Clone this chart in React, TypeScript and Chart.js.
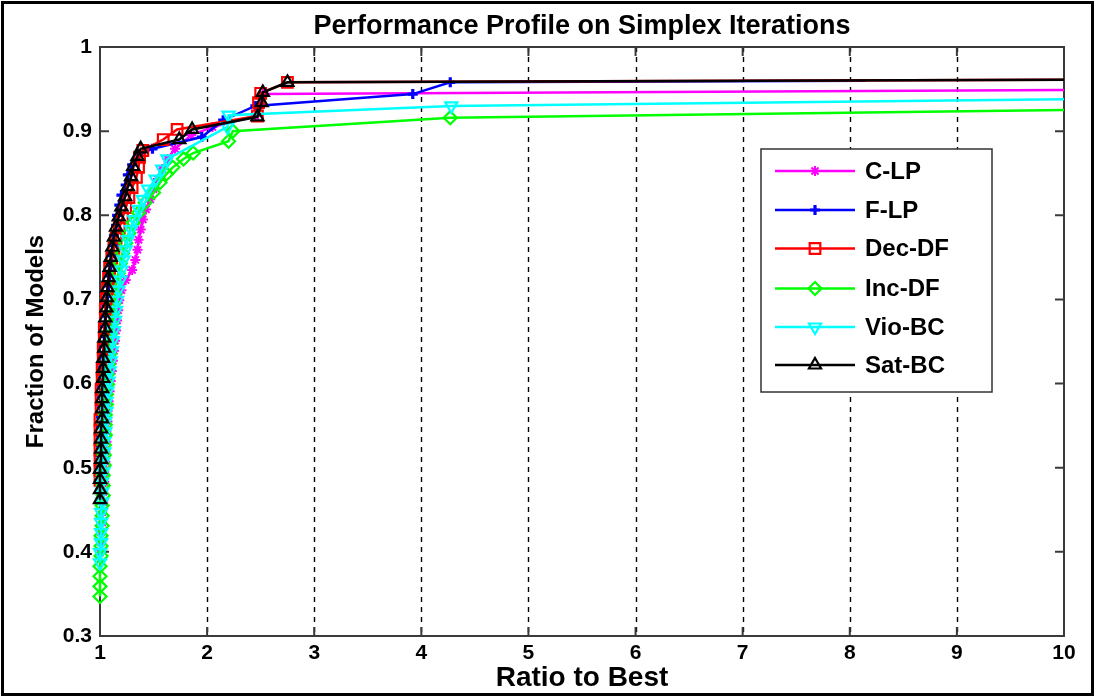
import React, { useEffect, useRef } from "react";
import { Chart, registerables } from "chart.js";
import { drawPoint } from "chart.js/helpers";

Chart.register(...registerables);

// Performance profile: fraction of models solved within a given ratio of the best simplex iteration count.
const titleText = "Performance Profile on Simplex Iterations";
const xAxisTitle = "Ratio to Best";
const yAxisTitle = "Fraction of Models";

const xTickValues = [1, 2, 3, 4, 5, 6, 7, 8, 9, 10];
const xTickLabels = ["1", "2", "3", "4", "5", "6", "7", "8", "9", "10"];
const yTickValues = [0.3, 0.4, 0.5, 0.6, 0.7, 0.8, 0.9, 1];
const yTickLabels = ["0.3", "0.4", "0.5", "0.6", "0.7", "0.8", "0.9", "1"];

const seriesNames = ["C-LP", "F-LP", "Dec-DF", "Inc-DF", "Vio-BC", "Sat-BC"];
const seriesColors = ["#ff00ff", "#0000ff", "#ff0000", "#00ff00", "#00ffff", "#000000"];

const cLpRatio = [1.0, 1.01, 1.01, 1.02, 1.02, 1.03, 1.03, 1.04, 1.04, 1.05, 1.05, 1.06, 1.06, 1.07, 1.07, 1.08, 1.09, 1.1, 1.11, 1.12, 1.13, 1.14, 1.15, 1.16, 1.17, 1.18, 1.2, 1.24, 1.3, 1.33, 1.35, 1.36, 1.38, 1.4, 1.43, 1.47, 1.5, 1.54, 1.58, 1.63, 1.7, 1.85, 2.05, 2.45, 2.48, 2.52, 10];
const cLpFraction = [0.399, 0.411, 0.423, 0.435, 0.447, 0.459, 0.471, 0.483, 0.495, 0.507, 0.519, 0.531, 0.543, 0.555, 0.567, 0.579, 0.591, 0.603, 0.615, 0.627, 0.639, 0.651, 0.663, 0.675, 0.687, 0.699, 0.711, 0.723, 0.735, 0.747, 0.759, 0.771, 0.783, 0.795, 0.807, 0.819, 0.831, 0.843, 0.855, 0.867, 0.879, 0.895, 0.905, 0.918, 0.93, 0.944, 0.949];

const fLpRatio = [1.0, 1.0, 1.01, 1.01, 1.01, 1.01, 1.02, 1.02, 1.02, 1.03, 1.03, 1.03, 1.04, 1.04, 1.05, 1.05, 1.06, 1.07, 1.08, 1.09, 1.1, 1.11, 1.12, 1.13, 1.15, 1.16, 1.18, 1.2, 1.24, 1.26, 1.3, 1.36, 1.49, 1.95, 2.15, 2.45, 3.92, 4.27, 8.15];
const fLpFraction = [0.5, 0.512, 0.524, 0.536, 0.548, 0.56, 0.572, 0.584, 0.596, 0.608, 0.62, 0.632, 0.644, 0.656, 0.668, 0.68, 0.692, 0.704, 0.716, 0.728, 0.74, 0.752, 0.764, 0.776, 0.788, 0.8, 0.812, 0.824, 0.836, 0.848, 0.86, 0.872, 0.879, 0.893, 0.913, 0.93, 0.944, 0.958, 0.96];

const decDfRatio = [1.0, 1.0, 1.0, 1.0, 1.0, 1.0, 1.0, 1.01, 1.01, 1.01, 1.02, 1.02, 1.03, 1.03, 1.04, 1.04, 1.05, 1.05, 1.06, 1.07, 1.08, 1.09, 1.11, 1.13, 1.15, 1.18, 1.21, 1.24, 1.27, 1.3, 1.34, 1.36, 1.37, 1.4, 1.59, 1.72, 2.47, 2.48, 2.5, 2.75, 10];
const decDfFraction = [0.485, 0.497, 0.509, 0.521, 0.533, 0.545, 0.557, 0.569, 0.581, 0.593, 0.605, 0.617, 0.629, 0.641, 0.653, 0.665, 0.677, 0.689, 0.701, 0.713, 0.725, 0.737, 0.749, 0.761, 0.773, 0.785, 0.797, 0.809, 0.821, 0.833, 0.845, 0.857, 0.869, 0.877, 0.89, 0.902, 0.918, 0.934, 0.945, 0.958, 0.961];

const incDfRatio = [1.0, 1.0, 1.0, 1.0, 1.01, 1.01, 1.01, 1.02, 1.02, 1.02, 1.03, 1.03, 1.03, 1.04, 1.04, 1.04, 1.05, 1.05, 1.05, 1.06, 1.06, 1.07, 1.07, 1.08, 1.09, 1.09, 1.1, 1.11, 1.12, 1.13, 1.14, 1.15, 1.17, 1.19, 1.21, 1.24, 1.27, 1.31, 1.36, 1.42, 1.5, 1.56, 1.62, 1.68, 1.78, 1.87, 2.2, 2.24, 4.27, 10];
const incDfFraction = [0.347, 0.359, 0.371, 0.383, 0.395, 0.407, 0.419, 0.431, 0.443, 0.455, 0.467, 0.479, 0.491, 0.503, 0.515, 0.527, 0.539, 0.551, 0.563, 0.575, 0.587, 0.599, 0.611, 0.623, 0.635, 0.647, 0.659, 0.671, 0.683, 0.695, 0.707, 0.719, 0.731, 0.743, 0.755, 0.767, 0.779, 0.791, 0.803, 0.815, 0.827, 0.839, 0.849, 0.857, 0.867, 0.874, 0.888, 0.9, 0.916, 0.925];

const vioBcRatio = [1.0, 1.0, 1.01, 1.01, 1.01, 1.01, 1.02, 1.02, 1.02, 1.03, 1.03, 1.04, 1.04, 1.05, 1.05, 1.06, 1.06, 1.07, 1.08, 1.09, 1.1, 1.11, 1.12, 1.13, 1.14, 1.15, 1.16, 1.17, 1.19, 1.2, 1.22, 1.24, 1.26, 1.29, 1.32, 1.36, 1.4, 1.45, 1.52, 1.58, 1.63, 2.19, 2.2, 4.28, 10];
const vioBcFraction = [0.387, 0.399, 0.411, 0.423, 0.435, 0.447, 0.459, 0.471, 0.483, 0.495, 0.507, 0.519, 0.531, 0.543, 0.555, 0.567, 0.579, 0.591, 0.603, 0.615, 0.627, 0.639, 0.651, 0.663, 0.675, 0.687, 0.699, 0.711, 0.723, 0.735, 0.747, 0.759, 0.771, 0.783, 0.795, 0.807, 0.819, 0.831, 0.843, 0.855, 0.867, 0.905, 0.919, 0.93, 0.938];

const satBcRatio = [1.0, 1.0, 1.0, 1.0, 1.01, 1.01, 1.01, 1.01, 1.02, 1.02, 1.02, 1.02, 1.03, 1.03, 1.03, 1.04, 1.04, 1.05, 1.05, 1.06, 1.065, 1.07, 1.08, 1.09, 1.1, 1.115, 1.13, 1.15, 1.175, 1.2, 1.235, 1.26, 1.29, 1.31, 1.35, 1.38, 1.74, 1.86, 2.47, 2.51, 2.52, 2.75, 10];
const satBcFraction = [0.462, 0.474, 0.486, 0.498, 0.51, 0.522, 0.534, 0.546, 0.558, 0.57, 0.582, 0.594, 0.606, 0.618, 0.63, 0.642, 0.654, 0.666, 0.678, 0.69, 0.702, 0.714, 0.726, 0.738, 0.75, 0.762, 0.774, 0.786, 0.798, 0.81, 0.822, 0.834, 0.846, 0.858, 0.87, 0.879, 0.89, 0.902, 0.917, 0.934, 0.946, 0.958, 0.961];

const seriesRatios = [cLpRatio, fLpRatio, decDfRatio, incDfRatio, vioBcRatio, satBcRatio];
const seriesFractions = [cLpFraction, fLpFraction, decDfFraction, incDfFraction, vioBcFraction, satBcFraction];

// marker per series: asterisk, plus, square, diamond, down-triangle, up-triangle
const markerStyles = ["star", "cross", "rect", "rectRot", "triangle", "triangle"];
const markerRotations = [0, 0, 0, 0, 180, 0];
const markerRadii = [5, 5, 7.5, 6.5, 7, 7];
const markerBorders = [2, 3.2, 2.2, 2.2, 2.2, 2.2];

const FONT = "'Liberation Sans', Arial, Helvetica, sans-serif";

const decorations = {
  id: "decorations",
  beforeDraw(chart: any) {
    const { ctx, width, height } = chart;
    ctx.save();
    ctx.fillStyle = "#ffffff";
    ctx.fillRect(0, 0, width, height);
    ctx.strokeStyle = "#000000";
    ctx.lineWidth = 3;
    ctx.strokeRect(2.5, 2.5, width - 6, height - 6);
    ctx.restore();
  },
  beforeDatasetsDraw(chart: any) {
    const { ctx, chartArea: a, scales } = chart;
    const xs = scales.x;
    const ys = scales.y;
    ctx.save();
    // dashed vertical grid lines at interior ticks
    ctx.strokeStyle = "#000000";
    ctx.lineWidth = 1.4;
    ctx.setLineDash([5, 5]);
    xTickValues.slice(1, -1).forEach((v) => {
      const px = Math.round(xs.getPixelForValue(v)) + 0.5;
      ctx.beginPath();
      ctx.moveTo(px, a.top);
      ctx.lineTo(px, a.bottom);
      ctx.stroke();
    });
    ctx.setLineDash([]);
    // axes box
    ctx.strokeStyle = "#3a3a3a";
    ctx.lineWidth = 2;
    ctx.strokeRect(a.left, a.top, a.right - a.left, a.bottom - a.top);
    // inward tick marks on all four sides
    const tl = 9;
    ctx.beginPath();
    xTickValues.forEach((v) => {
      const px = xs.getPixelForValue(v);
      ctx.moveTo(px, a.top);
      ctx.lineTo(px, a.top + tl);
      ctx.moveTo(px, a.bottom);
      ctx.lineTo(px, a.bottom - tl);
    });
    yTickValues.forEach((v) => {
      const py = ys.getPixelForValue(v);
      ctx.moveTo(a.left, py);
      ctx.lineTo(a.left + tl, py);
      ctx.moveTo(a.right, py);
      ctx.lineTo(a.right - tl, py);
    });
    ctx.stroke();
    ctx.restore();
  },
  afterDraw(chart: any) {
    const { ctx, chartArea: a } = chart;
    const cx = (a.left + a.right) / 2;
    const cy = (a.top + a.bottom) / 2;
    ctx.save();
    ctx.fillStyle = "#000000";
    ctx.textAlign = "center";
    ctx.textBaseline = "alphabetic";
    ctx.font = `bold 27px ${FONT}`;
    ctx.fillText(titleText, cx, 34);
    ctx.font = `bold 28px ${FONT}`;
    ctx.fillText(xAxisTitle, cx, 686);
    ctx.save();
    ctx.translate(43, cy);
    ctx.rotate(-Math.PI / 2);
    ctx.font = `bold 24px ${FONT}`;
    ctx.fillText(yAxisTitle, 0, 0);
    ctx.restore();

    // legend box
    const bx = 761, by = 149, bw = 231, bh = 243;
    ctx.fillStyle = "#ffffff";
    ctx.fillRect(bx, by, bw, bh);
    ctx.strokeStyle = "#333333";
    ctx.lineWidth = 1.5;
    ctx.strokeRect(bx, by, bw, bh);
    const rowY = [171, 210, 248.5, 288.5, 327, 365];
    chart.data.datasets.forEach((ds: any, i: number) => {
      const y = rowY[i];
      ctx.strokeStyle = ds.borderColor;
      ctx.lineWidth = 2.5;
      ctx.beginPath();
      ctx.moveTo(775, y);
      ctx.lineTo(855, y);
      ctx.stroke();
      ctx.fillStyle = ds.pointBackgroundColor;
      ctx.strokeStyle = ds.borderColor;
      ctx.lineWidth = markerBorders[i];
      drawPoint(ctx, { pointStyle: markerStyles[i], rotation: markerRotations[i], radius: markerRadii[i], borderWidth: markerBorders[i] } as any, 815, y);
      ctx.fillStyle = "#000000";
      ctx.textAlign = "left";
      ctx.textBaseline = "middle";
      ctx.font = `bold 24px ${FONT}`;
      ctx.fillText(ds.label, 865, y + 1);
    });
    ctx.restore();
  },
};

export default function App() {
  const canvasRef = useRef<HTMLCanvasElement | null>(null);

  useEffect(() => {
    if (!canvasRef.current) return;
    const datasets = seriesNames.map((name, i) => {
      const rx = seriesRatios[i];
      const fy = seriesFractions[i];
      const n = Math.min(rx.length, fy.length);
      const pts = [];
      for (let k = 0; k < n; k++) pts.push({ x: rx[k], y: fy[k] });
      const color = seriesColors[i];
      const filled = markerStyles[i] === "cross";
      return {
        label: name,
        data: pts,
        borderColor: color,
        backgroundColor: color,
        borderWidth: 2.5,
        pointStyle: markerStyles[i],
        pointRotation: markerRotations[i],
        pointBorderWidth: markerBorders[i],
        pointBorderColor: color,
        pointBackgroundColor: filled ? color : "rgba(0,0,0,0)",
        pointRadius: (c: any) => (c.dataIndex === n - 1 ? 0 : markerRadii[i]),
        tension: 0,
        clip: false as any,
        order: seriesNames.length - i,
      };
    });

    const chart = new Chart(canvasRef.current, {
      type: "line",
      data: { datasets },
      options: {
        animation: false,
        responsive: false,
        devicePixelRatio: 1,
        layout: { padding: { top: 47, right: 32, left: 0, bottom: 0 } },
        plugins: { legend: { display: false }, title: { display: false }, tooltip: { enabled: false } },
        scales: {
          x: {
            type: "linear",
            min: 1,
            max: 10,
            grid: { display: false, drawTicks: false },
            border: { display: false },
            afterFit: (s: any) => {
              s.height = 62;
            },
            afterBuildTicks: (s: any) => {
              s.ticks = xTickValues.map((v) => ({ value: v }));
            },
            ticks: {
              padding: 5,
              color: "#000000",
              font: { family: FONT, size: 21, weight: "bold" },
              maxRotation: 0,
              callback: (v: any) => xTickLabels[xTickValues.indexOf(Number(v))] ?? "",
            },
          },
          y: {
            type: "linear",
            min: 0.3,
            max: 1,
            grid: { display: false, drawTicks: false },
            border: { display: false },
            afterFit: (s: any) => {
              s.width = 100;
            },
            afterBuildTicks: (s: any) => {
              s.ticks = yTickValues.map((v) => ({ value: v }));
            },
            ticks: {
              padding: 8,
              color: "#000000",
              font: { family: FONT, size: 21, weight: "bold" },
              callback: (v: any) => {
                const idx = yTickValues.findIndex((t) => Math.abs(t - Number(v)) < 1e-6);
                return idx >= 0 ? yTickLabels[idx] : "";
              },
            },
          },
        },
      },
      plugins: [decorations],
    } as any);
    return () => chart.destroy();
  }, []);

  return (
    <div style={{ position: "fixed", left: 0, top: 0, width: 1096, height: 698, background: "#fff" }}>
      <canvas ref={canvasRef} width={1096} height={698} style={{ display: "block", width: 1096, height: 698 }} />
    </div>
  );
}
